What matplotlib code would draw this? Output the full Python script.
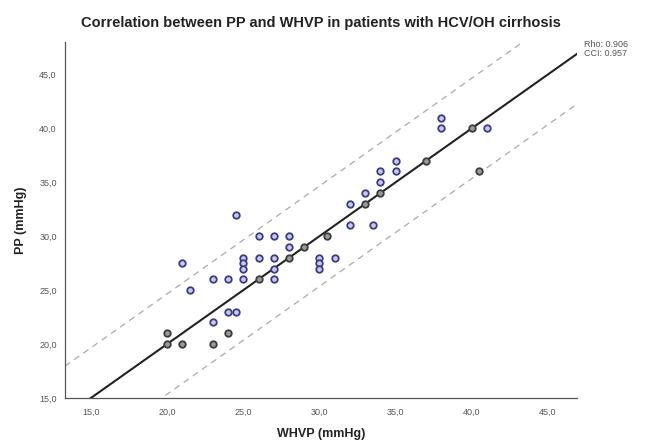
import matplotlib
matplotlib.use("Agg")
import matplotlib.pyplot as plt
import numpy as np

plt.rcParams['font.family'] = ['Liberation Sans', 'DejaVu Sans']

# Data (WHVP, PP)
whvp_blue = [24.5, 26, 27, 28, 28, 21, 25, 25, 25, 26, 27, 27, 30, 30, 30, 23, 24, 25, 27,
             21.5, 24, 24.5, 23, 38, 38, 41, 35, 35, 34, 34, 33, 32, 32, 33.5, 31]
pp_blue = [32, 30, 30, 30, 29, 27.5, 28, 27.5, 27, 28, 28, 27, 28, 27.5, 27, 26, 26, 26, 26,
           25, 23, 23, 22, 41, 40, 40, 37, 36, 36, 35, 34, 33, 31, 31, 28]
whvp_gray = [20, 20, 21, 23, 24, 26, 28, 29, 30.5, 33, 34, 37, 40, 40.5]
pp_gray = [21, 20, 20, 20, 21, 26, 28, 29, 30, 33, 34, 37, 40, 36]

fit_intercept = 0.0
fit_slope = 1.0
band_halfwidth = 4.65

x_ticks = [15, 20, 25, 30, 35, 40, 45]
y_ticks = [15, 20, 25, 30, 35, 40, 45]

title = "Correlation between PP and WHVP in patients with HCV/OH cirrhosis"
xlabel = "WHVP (mmHg)"
ylabel = "PP (mmHg)"
stats_text = "Rho: 0.906\nCCI: 0.957"

fig = plt.figure(figsize=(6.48, 4.40), dpi=100)
ax = fig.add_axes([65/648, 42/440, 512/648, 356/440])
xlim = (13.3, 46.9)
ylim = (15.0, 48.0)
ax.set_xlim(*xlim)
ax.set_ylim(*ylim)

xx = np.array(xlim)
ax.plot(xx, fit_intercept + fit_slope*xx, color='#222222', lw=1.5, zorder=3)
ax.plot(xx, fit_intercept + fit_slope*xx + band_halfwidth, color='#aaaaaa', lw=0.9,
        ls=(0, (5, 4)), zorder=2)
ax.plot(xx, fit_intercept + fit_slope*xx - band_halfwidth, color='#aaaaaa', lw=0.9,
        ls=(0, (5, 4)), zorder=2)

ax.scatter(whvp_blue, pp_blue, s=22, facecolor='#c9cbe6', edgecolor='#3b3b86',
           linewidths=1.3, zorder=4)
ax.scatter(whvp_gray, pp_gray, s=22, facecolor='#9a9a9a', edgecolor='#3c3c3c',
           linewidths=1.3, zorder=4)

ax.set_xticks(x_ticks)
ax.set_yticks(y_ticks)
ax.set_xticklabels([f"{v:.1f}".replace('.', ',') for v in x_ticks])
ax.set_yticklabels([f"{v:.1f}".replace('.', ',') for v in y_ticks])
ax.tick_params(axis='both', length=0, labelsize=6.5, labelcolor='#555555')
ax.tick_params(axis='x', pad=7)
ax.tick_params(axis='y', pad=6)

for s in ['top', 'right']:
    ax.spines[s].set_visible(False)
for s in ['left', 'bottom']:
    ax.spines[s].set_color('#555555')
    ax.spines[s].set_linewidth(0.9)

ax.set_title(title, fontsize=10.5, fontweight='bold', color='#222222', pad=11)
ax.set_xlabel(xlabel, fontsize=9, fontweight='bold', color='#222222', labelpad=8)
ax.set_ylabel(ylabel, fontsize=9, fontweight='bold', color='#222222', labelpad=9)

fig.text(584/648, 1 - 40/440, stats_text, fontsize=6.5, color='#555555',
         va='top', ha='left', linespacing=0.95)

fig.savefig("out.png", dpi=100, facecolor='white')
